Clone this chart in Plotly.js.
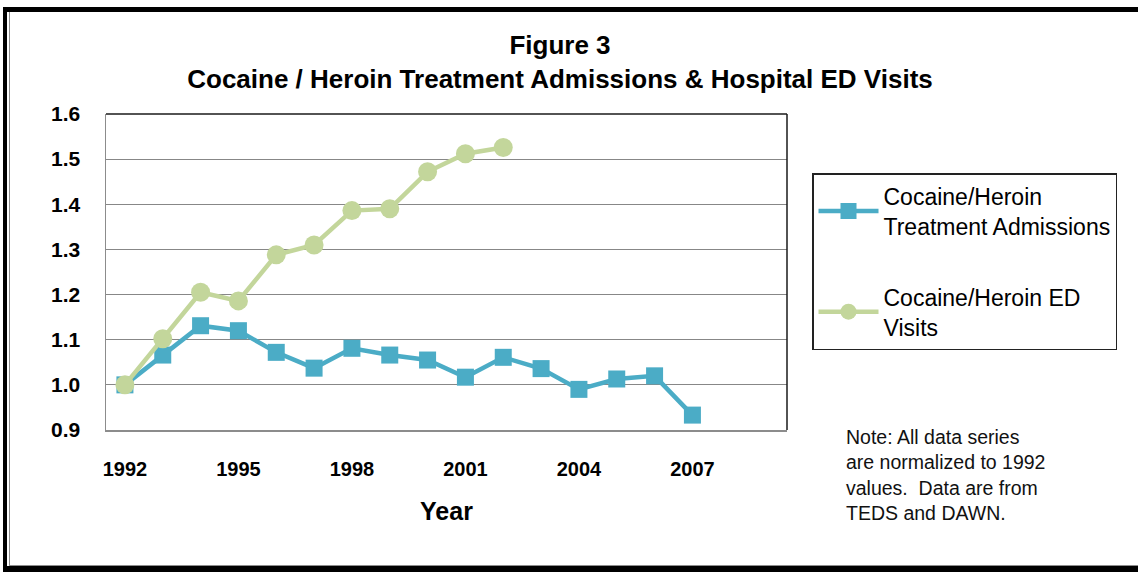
<!DOCTYPE html>
<html>
<head>
<meta charset="utf-8">
<script src="https://cdn.plot.ly/plotly-3.0.1.min.js"></script>
<style>
  html, body { margin: 0; padding: 0; background: #fff; }
  #wrap { position: relative; width: 1138px; height: 572px; overflow: hidden; }
  #chart { position: absolute; left: 0; top: 0; width: 1138px; height: 572px; }
  .frame { position: absolute; pointer-events: none; z-index: 5; }
</style>
</head>
<body>
<div id="wrap">
  <div id="chart"></div>
  <!-- picture frame around the figure -->
  <div class="frame" style="left:3px; top:7px; width:4px; height:565px; background:#000;"></div>
  <div class="frame" style="left:3px; top:7px; width:1135px; height:5px; background:#000;"></div>
  <div class="frame" style="left:3px; top:566px; width:1135px; height:6px; background:#000;"></div>
  <div class="frame" style="left:9px; top:12px; width:1px; height:553px; background:#8c8c8c;"></div>
  <div class="frame" style="left:9px; top:565px; width:1129px; height:1px; background:#8c8c8c;"></div>
</div>
<script>
// Years on the category axis
const treatmentYears = [1992, 1993, 1994, 1995, 1996, 1997, 1998, 1999, 2000, 2001, 2002, 2003, 2004, 2005, 2006, 2007];
const edYears = [1992, 1993, 1994, 1995, 1996, 1997, 1998, 1999, 2000, 2001, 2002];

// Values normalized to 1992
const treatmentAdmissions = [1.00, 1.066, 1.131, 1.120, 1.072, 1.037, 1.081, 1.066, 1.055, 1.017, 1.061, 1.036, 0.990, 1.013, 1.020, 0.933];
const edVisits = [1.00, 1.102, 1.205, 1.186, 1.288, 1.310, 1.386, 1.390, 1.472, 1.512, 1.526];

// Axis ticks
const xTickYears = [1992, 1995, 1998, 2001, 2004, 2007];
const xTickLabels = ['1992', '1995', '1998', '2001', '2004', '2007'];
const yTickValues = [0.9, 1.0, 1.1, 1.2, 1.3, 1.4, 1.5, 1.6];
const yTickLabels = ['0.9', '1.0', '1.1', '1.2', '1.3', '1.4', '1.5', '1.6'];

const FONT = '"Liberation Sans", Arial, Helvetica, sans-serif';
const BLUE = '#4BACC6';
const GREEN = '#C3D69B';

const traces = [
  {
    x: treatmentYears,
    y: treatmentAdmissions,
    name: 'Cocaine/Heroin<br>Treatment Admissions',
    type: 'scatter',
    mode: 'lines+markers',
    legendgroup: 'a',
    line: { color: BLUE, width: 4.5 },
    marker: { symbol: 'square', size: 17, color: BLUE }
  },
  {
    x: edYears,
    y: edVisits,
    name: 'Cocaine/Heroin ED<br>Visits',
    type: 'scatter',
    mode: 'lines+markers',
    legendgroup: 'b',
    line: { color: GREEN, width: 4.5 },
    marker: { symbol: 'circle', size: 19, color: GREEN }
  }
];

const layout = {
  width: 1138,
  height: 572,
  paper_bgcolor: '#ffffff',
  plot_bgcolor: '#ffffff',
  margin: { l: 106, r: 351, t: 114, b: 142 },
  font: { family: FONT, color: '#000' },
  title: {
    text: 'Figure 3<br>Cocaine / Heroin Treatment Admissions & Hospital ED Visits',
    font: { family: FONT, size: 26, weight: 700, color: '#000' },
    x: 560 / 1138,
    xanchor: 'center',
    xref: 'container',
    yref: 'container',
    y: 1 - 54 / 572,
    yanchor: 'top'
  },
  xaxis: {
    range: [1991.5, 2009.5],
    tickmode: 'array',
    tickvals: xTickYears,
    ticktext: xTickLabels,
    ticks: 'outside',
    ticklen: 20,
    tickcolor: 'rgba(0,0,0,0)',
    tickfont: { family: FONT, size: 20, weight: 700, color: '#000' },
    showgrid: false,
    zeroline: false,
    showline: true,
    linecolor: '#8c8c8c',
    linewidth: 1.5,
    fixedrange: true,
    title: {
      text: 'Year',
      font: { family: FONT, size: 25, weight: 700, color: '#000' },
      standoff: 24
    }
  },
  yaxis: {
    range: [0.9, 1.6],
    tickmode: 'array',
    tickvals: yTickValues,
    ticktext: yTickLabels,
    ticks: 'outside',
    ticklen: 20,
    tickcolor: 'rgba(0,0,0,0)',
    tickfont: { family: FONT, size: 21, weight: 700, color: '#000' },
    showgrid: true,
    gridcolor: '#878787',
    gridwidth: 1,
    zeroline: false,
    showline: true,
    linecolor: '#8c8c8c',
    linewidth: 1.5,
    fixedrange: true
  },
  shapes: [
    // darker top and right edges of the plot area
    { type: 'line', xref: 'paper', yref: 'paper', x0: 0, x1: 1, y0: 1, y1: 1, line: { color: '#1a1a1a', width: 1.5 } },
    { type: 'line', xref: 'paper', yref: 'paper', x0: 1, x1: 1, y0: 0, y1: 1, line: { color: '#1a1a1a', width: 1.5 } }
  ],
  showlegend: true,
  legend: {
    x: (812 - 106) / 681,
    y: (430 - 173) / 316,
    xanchor: 'left',
    yanchor: 'top',
    bgcolor: '#ffffff',
    bordercolor: '#222222',
    borderwidth: 1.5,
    font: { family: FONT, size: 23, color: '#000' },
    traceorder: 'grouped',
    tracegroupgap: 38,
    itemwidth: 60,
    itemclick: false,
    itemdoubleclick: false
  },
  annotations: [
    {
      text: 'Note: All data series<br>are normalized to 1992<br>values.  Data are from<br>TEDS and DAWN.',
      xref: 'paper',
      yref: 'paper',
      x: (844 - 106) / 681,
      y: 0.02,
      xanchor: 'left',
      yanchor: 'top',
      align: 'left',
      showarrow: false,
      font: { family: FONT, size: 19.5, color: '#111' }
    }
  ]
};

Plotly.newPlot('chart', traces, layout, { displayModeBar: false, staticPlot: true });
</script>
</body>
</html>
